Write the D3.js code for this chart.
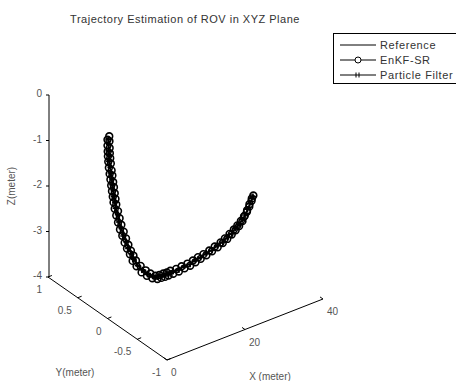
<!DOCTYPE html>
<html>
<head>
<meta charset="utf-8">
<script src="https://cdn.jsdelivr.net/npm/d3@7"></script>
<style>
  body { margin: 0; background: #fff; }
  text { font-family: "Liberation Sans", Arial, sans-serif; }
</style>
</head>
<body>
<div id="grafik"></div>
<script>
// axis ticks
const xTicks = [0, 20, 40];
const yTicks = [1, 0.5, 0, -0.5, -1];
const zTicks = [0, -1, -2, -3, -4];

// reference trajectory (y stays at 0)
const refX = [0.13,0.2,0.27,0.33,0.39,0.58,0.77,0.97,1.16,1.36,1.55,1.75,1.94,2.37,2.8,3.23,3.83,4.43,5.03,5.72,6.41,7.1,8.39,9.68,10.97,12.26,13.3,14.3,15.2,16.1,17.6,19.0,20.5,21.9,23.2,24.6,26.1,27.5,29.0,30.1,31.3,32.4,33.3,34.2,35.0,35.6,36.2,36.8,37.3];
const refZ = [0,-0.13,-0.26,-0.38,-0.49,-0.63,-0.77,-0.9,-1.04,-1.17,-1.31,-1.44,-1.57,-1.73,-1.9,-2.06,-2.23,-2.4,-2.56,-2.71,-2.86,-3.0,-3.17,-3.31,-3.42,-3.51,-3.53,-3.53,-3.54,-3.53,-3.54,-3.53,-3.52,-3.5,-3.47,-3.44,-3.41,-3.37,-3.33,-3.28,-3.22,-3.16,-3.1,-3.03,-2.96,-2.86,-2.76,-2.65,-2.56];

// EnKF-SR estimate
const enkfX = [0.45,0.0,0.5,0.0,0.55,0.05,0.6,0.1,0.7,0.2,0.85,0.35,1.05,0.55,1.25,0.75,1.45,0.95,1.65,1.15,1.85,1.35,2.05,1.55,2.25,1.85,2.7,2.25,3.1,2.7,3.55,3.2,4.15,3.8,4.75,4.4,5.35,5.0,6.0,5.75,6.65,6.45,7.3,7.45,8.5,8.75,9.8,10.1,11.0,11.5,12.3,12.8,13.3,13.8,14.3,14.75,15.2,15.65,16.1,16.85,17.6,18.3,19.0,19.75,20.5,21.2,21.9,22.55,23.2,23.9,24.6,25.35,26.1,26.8,27.5,28.25,29.0,29.55,30.1,30.7,31.3,31.85,32.4,32.85,33.3,33.75,34.2,34.6,35.0,35.2,35.75,35.8,36.35,36.4,36.95,37.0,37.4];
const enkfZ = [-0.01,-0.07,-0.12,-0.2,-0.27,-0.33,-0.39,-0.44,-0.5,-0.56,-0.62,-0.7,-0.78,-0.84,-0.9,-0.97,-1.05,-1.11,-1.17,-1.24,-1.31,-1.37,-1.44,-1.5,-1.57,-1.65,-1.73,-1.81,-1.9,-1.98,-2.06,-2.15,-2.23,-2.31,-2.4,-2.48,-2.56,-2.63,-2.71,-2.78,-2.84,-2.95,-2.97,-3.1,-3.13,-3.28,-3.27,-3.4,-3.38,-3.5,-3.47,-3.56,-3.49,-3.57,-3.49,-3.58,-3.5,-3.58,-3.49,-3.58,-3.5,-3.58,-3.49,-3.56,-3.48,-3.55,-3.46,-3.52,-3.43,-3.49,-3.41,-3.46,-3.38,-3.42,-3.34,-3.38,-3.3,-3.33,-3.25,-3.28,-3.19,-3.22,-3.13,-3.16,-3.07,-3.1,-3.0,-3.02,-2.93,-2.92,-2.85,-2.82,-2.76,-2.71,-2.65,-2.6,-2.55];

// particle filter estimate
const pfX = [0.2,0.35,0.25,0.45,0.4,0.75,0.8,1.15,1.2,1.55,1.6,1.95,2.1,2.65,2.95,3.6,4.05,4.8,5.3,6.15,6.7,7.75,9.0,10.3,11.6,12.8,13.8,14.75,15.65,16.85,18.3,19.75,21.2,22.55,23.9,25.35,26.8,28.25,29.55,30.7,31.85,32.85,33.75,34.6,35.3,35.9,36.5,37.05,37.3];
const pfZ = [-0.06,-0.19,-0.32,-0.43,-0.56,-0.7,-0.83,-0.97,-1.1,-1.24,-1.37,-1.51,-1.65,-1.81,-1.98,-2.14,-2.32,-2.48,-2.64,-2.79,-2.92,-3.1,-3.23,-3.38,-3.46,-3.51,-3.54,-3.52,-3.55,-3.52,-3.55,-3.51,-3.52,-3.47,-3.46,-3.41,-3.4,-3.34,-3.31,-3.24,-3.2,-3.12,-3.07,-2.99,-2.91,-2.8,-2.7,-2.61,-2.57];

const seriesNames = ["Reference", "EnKF-SR", "Particle Filter"];

const genislik = 456, yukseklik = 381;
const svg = d3.select("#grafik").append("svg")
  .attr("width", genislik)
  .attr("height", yukseklik);

// screen position of the box corners
const kose = { x: 167, y: 360 };     // x=0, y=-1, z=-4
const xUc = { x: 323, y: 299 };      // x=40
const yUc = { x: 48, y: 277 };       // y=1
const zBoy = 182;                    // z from -4 to 0

const xs = d3.scaleLinear().domain([0, 40]).range([0, 1]);
const ys = d3.scaleLinear().domain([-1, 1]).range([0, 1]);
const zs = d3.scaleLinear().domain([-4, 0]).range([0, zBoy]);

function proj(x, y, z) {
  const a = xs(x), b = ys(y);
  return [
    kose.x + a * (xUc.x - kose.x) + b * (yUc.x - kose.x),
    kose.y + a * (xUc.y - kose.y) + b * (yUc.y - kose.y) - zs(z)
  ];
}

const gri = "#555";

// title
svg.append("text")
  .attr("x", 185).attr("y", 23)
  .attr("text-anchor", "middle")
  .attr("font-size", 11)
  .attr("letter-spacing", 0.5)
  .attr("fill", "#333")
  .text("Trajectory Estimation of ROV in XYZ Plane");

const eksen = svg.append("g").attr("stroke", "#000").attr("stroke-width", 1).attr("fill", "none");

// x axis (y=-1, z=-4)
const x0 = proj(0, -1, -4), x1 = proj(40, -1, -4);
eksen.append("line").attr("x1", x0[0]).attr("y1", x0[1]).attr("x2", x1[0]).attr("y2", x1[1]);
xTicks.forEach(t => {
  const p = proj(t, -1, -4), q = proj(t, -0.95, -4);
  eksen.append("line").attr("x1", p[0]).attr("y1", p[1]).attr("x2", q[0]).attr("y2", q[1]);
  svg.append("text")
    .attr("x", p[0] + 4).attr("y", p[1] + 16)
    .attr("font-size", 10).attr("fill", gri)
    .text(t);
});

// y axis (x=0, z=-4)
const y0 = proj(0, 1, -4), y1 = proj(0, -1, -4);
eksen.append("line").attr("x1", y0[0]).attr("y1", y0[1]).attr("x2", y1[0]).attr("y2", y1[1]);
yTicks.forEach(t => {
  const p = proj(0, t, -4), q = proj(1, t, -4);
  eksen.append("line").attr("x1", p[0]).attr("y1", p[1]).attr("x2", q[0]).attr("y2", q[1]);
  svg.append("text")
    .attr("x", p[0] - 6).attr("y", p[1] + 16)
    .attr("text-anchor", "end")
    .attr("font-size", 10).attr("fill", gri)
    .text(t);
});

// z axis (x=0, y=1)
const z0 = proj(0, 1, -4), z1 = proj(0, 1, 0);
eksen.append("line").attr("x1", z0[0] + 1).attr("y1", z0[1]).attr("x2", z1[0] + 1).attr("y2", z1[1]);
zTicks.forEach(t => {
  const p = proj(0, 1, t);
  eksen.append("line").attr("x1", p[0] + 1).attr("y1", p[1]).attr("x2", p[0] - 2).attr("y2", p[1]);
  svg.append("text")
    .attr("x", p[0] - 6).attr("y", p[1] + 2)
    .attr("text-anchor", "end")
    .attr("font-size", 10).attr("fill", gri)
    .text(t);
});

// axis labels
svg.append("text").attr("x", 75).attr("y", 376).attr("text-anchor", "middle")
  .attr("font-size", 10).attr("fill", gri).text("Y(meter)");
svg.append("text").attr("x", 270).attr("y", 380).attr("text-anchor", "middle")
  .attr("font-size", 10).attr("fill", gri).text("X (meter)");
svg.append("text").attr("transform", "translate(15,186) rotate(-90)").attr("text-anchor", "middle")
  .attr("font-size", 10).attr("fill", gri).text("Z(meter)");

// series
const cizgi = d3.line();
const refPts = refX.map((x, i) => proj(x, 0, refZ[i]));
const enkfPts = enkfX.map((x, i) => proj(x, 0, enkfZ[i]));
const pfPts = pfX.map((x, i) => proj(x, 0, pfZ[i]));

const seri = svg.append("g").attr("fill", "none").attr("stroke", "#000");
seri.append("path").attr("d", cizgi(refPts)).attr("stroke-width", 1);
seri.append("path").attr("d", cizgi(enkfPts)).attr("stroke-width", 1.2);
seri.append("path").attr("d", cizgi(pfPts)).attr("stroke-width", 1.2);

seri.selectAll("circle.enkf")
  .data(enkfPts)
  .enter()
  .append("circle")
  .attr("class", "enkf")
  .attr("cx", d => d[0]).attr("cy", d => d[1])
  .attr("r", 3.4)
  .attr("stroke-width", 1.6);

seri.selectAll("path.pf")
  .data(pfPts)
  .enter()
  .append("path")
  .attr("class", "pf")
  .attr("d", d => `M${d[0] - 3},${d[1]}H${d[0] + 3}M${d[0]},${d[1] - 3}V${d[1] + 3}`)
  .attr("stroke-width", 1.5);

// legend
const lej = svg.append("g");
lej.append("rect")
  .attr("x", 333.5).attr("y", 33.5)
  .attr("width", 140).attr("height", 50)
  .attr("fill", "#fff").attr("stroke", "#000");

seriesNames.forEach((ad, i) => {
  const ly = 45 + i * 15;
  lej.append("line").attr("x1", 340).attr("x2", 376).attr("y1", ly).attr("y2", ly)
    .attr("stroke", "#000");
  if (i === 1) {
    lej.append("circle").attr("cx", 358).attr("cy", ly).attr("r", 3)
      .attr("fill", "#fff").attr("stroke", "#000");
  }
  if (i === 2) {
    lej.append("path").attr("d", `M356,${ly - 2.5}V${ly + 2.5}M359,${ly - 2.5}V${ly + 2.5}`)
      .attr("stroke", "#000");
  }
  lej.append("text").attr("x", 380).attr("y", ly + 4)
    .attr("font-size", 11).attr("letter-spacing", 0.6).attr("fill", "#333")
    .text(ad);
});
</script>
</body>
</html>
